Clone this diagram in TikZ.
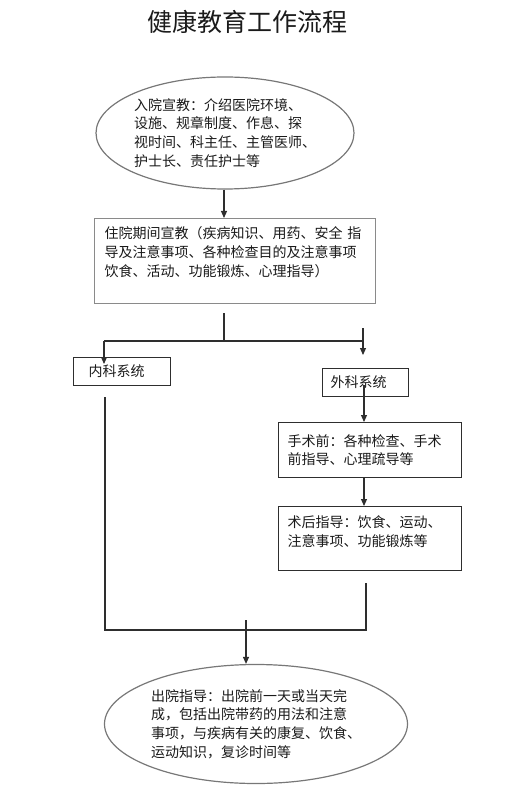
\documentclass[tikz,border=0pt]{standalone}
\usepackage{fontspec}
\newfontfamily\hfcjk{Noto Sans CJK SC}
\usepackage{tikz}
\usetikzlibrary{arrows.meta,shapes.geometric}
\definecolor{hfink}{HTML}{1A1A1A}
\definecolor{hfline}{HTML}{2E2E2E}
\definecolor{hfedge}{HTML}{777777}
\definecolor{hfbox}{HTML}{8A8A8A}

\begin{document}
\begin{tikzpicture}[
  x=1pt, y=-1pt,
  font=\hfcjk\fontsize{14}{18.8}\selectfont, text=hfink,
  bubble/.style={draw=hfedge, line width=1.2pt, ellipse, inner sep=0pt,
    align=left},
  panel/.style={draw=hfline, line width=1.2pt, rectangle, anchor=north west,
    align=left, inner ysep=0pt},
  wire/.style={draw=hfline, line width=1.1pt},
  flow/.style={wire, -{Triangle[length=7pt,width=6pt]}},
  ]
  \useasboundingbox (0,0) rectangle (506,791);
  \node[font=\hfcjk\fontsize{25}{30}\selectfont, text=hfink] (title) at (247,22)
    {健康教育工作流程};
  \node[bubble, minimum width=258pt, minimum height=112pt] (admit) at (225,133)
    {入院宣教：介绍医院环境、\\设施、规章制度、作息、探\\视时间、科主任、主管医师、\\护士长、责任护士等};
  \node[panel, draw=hfbox, minimum width=281pt, minimum height=85pt,
    text width=261pt, inner xsep=10pt] (stay) at (94,218)
    {住院期间宣教（疾病知识、用药、安全 指\\导及注意事项、各种检查目的及注意事项\\饮食、活动、功能锻炼、心理指导）\\ \mbox{}};
  \node[panel, minimum width=97pt, minimum height=28pt, text width=67pt,
    inner xsep=15pt] (med) at (73,357) {内科系统};
  \node[panel, minimum width=86pt, minimum height=28pt, text width=70pt,
    inner xsep=8pt] (surg) at (322,368) {外科系统};
  \node[panel, minimum width=183pt, minimum height=55pt, text width=165pt,
    inner xsep=9pt] (pre) at (278,422) {手术前：各种检查、手术\\前指导、心理疏导等};
  \node[panel, minimum width=183pt, minimum height=64pt, text width=165pt,
    inner xsep=9pt] (post) at (278,506) {术后指导：饮食、运动、\\注意事项、功能锻炼等\\[-4pt]\mbox{}};
  \node[bubble, minimum width=303pt, minimum height=119pt] (leave) at (256,724)
    {出院指导：出院前一天或当天完\\成，包括出院带药的用法和注意\\事项，与疾病有关的康复、饮食、\\运动知识，复诊时间等};

  \coordinate (forktop) at (224,313);
  \coordinate (fork) at (224,341);
  \coordinate (lcorner) at (104,341);
  \coordinate (ltip) at (104,364);
  \coordinate (rcorner) at (363,341);
  \coordinate (rtop) at (363,328);
  \coordinate (rtip) at (363,355);
  \coordinate (surgmid) at (364,385);
  \coordinate (lbot) at (105,397);
  \coordinate (ljoin) at (105,630);
  \coordinate (rjoin) at (366,630);
  \coordinate (rbot) at (366,583);
  \coordinate (jtop) at (246,620);

  \draw[flow] (admit.south -| forktop) -- (forktop |- stay.north);
  \draw[wire] (forktop) -- (fork) (lcorner) -- (rcorner);
  \draw[flow] (lcorner) -- (ltip);
  \draw[flow] (rtop) -- (rtip);
  \draw[flow] (surgmid) -- (surgmid |- pre.north);
  \draw[flow] (surgmid |- pre.south) -- (surgmid |- post.north);
  \draw[wire] (lbot) -- (ljoin) -- (rjoin) -- (rbot);
  \draw[flow] (jtop) -- (jtop |- leave.north);
\end{tikzpicture}
\end{document}
